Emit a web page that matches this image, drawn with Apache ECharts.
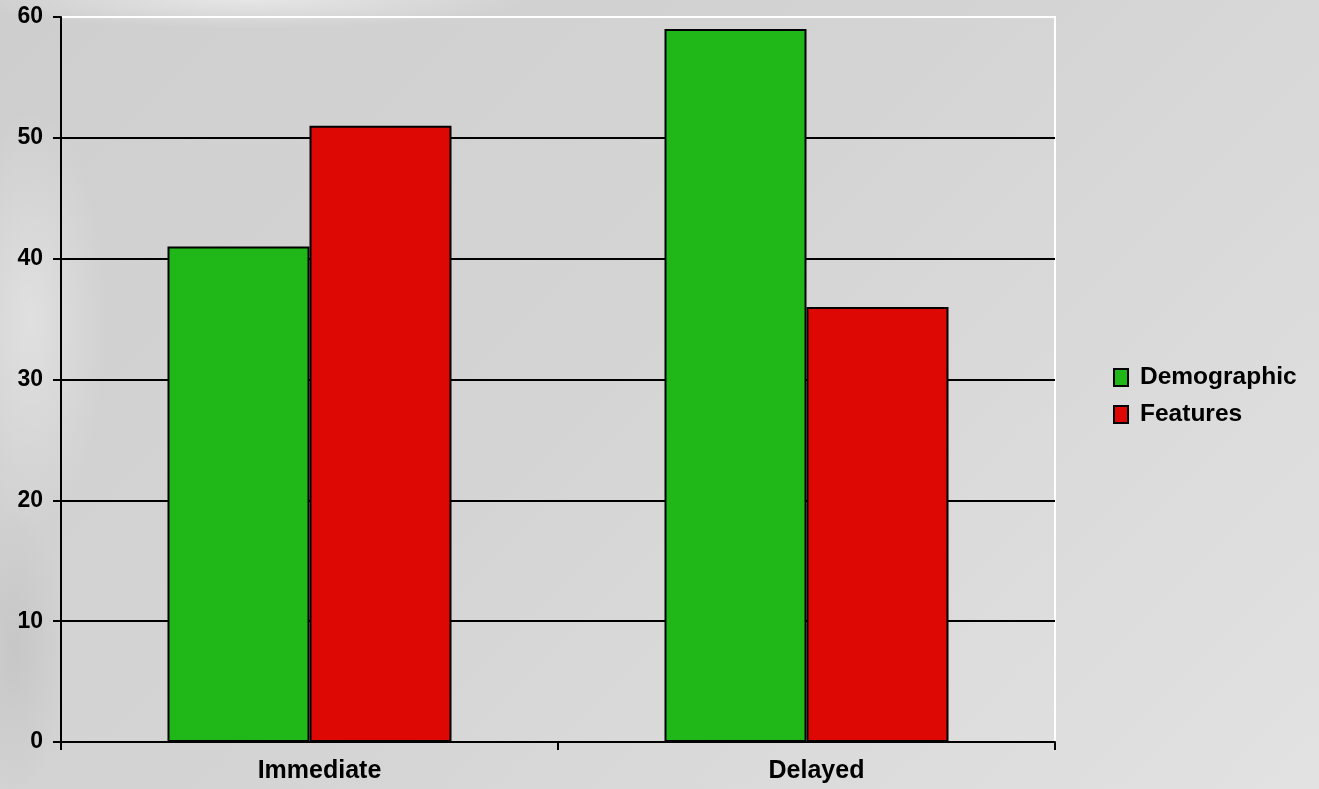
<!DOCTYPE html>
<html>
<head>
<meta charset="utf-8">
<script src="https://cdn.jsdelivr.net/npm/echarts@6/dist/echarts.min.js"></script>
<style>
html,body{margin:0;padding:0;width:1319px;height:789px;overflow:hidden;}
body{
  background:
    radial-gradient(ellipse 400px 40px at 250px 0px, rgba(245,245,245,0.6), rgba(245,245,245,0) 70%),
    radial-gradient(ellipse 110px 300px at 30px 320px, rgba(240,240,240,0.5), rgba(240,240,240,0) 70%),
    radial-gradient(ellipse 70px 200px at 15px 650px, rgba(185,185,185,0.45), rgba(185,185,185,0) 70%),
    linear-gradient(135deg, #cecece 0%, #d3d3d3 45%, #dbdbdb 75%, #e2e2e2 100%);
}
#chart{width:1319px;height:789px;}
</style>
</head>
<body>
<div id="chart"></div>
<script>
const categories = ['Immediate', 'Delayed'];
const seriesNames = ['Demographics', 'Features'];
const demographicValues = [41, 59];
const featuresValues = [51, 36];
const yTicks = [0, 10, 20, 30, 40, 50, 60];

const chart = echarts.init(document.getElementById('chart'));
const font = 'Liberation Sans, Arial, sans-serif';
chart.setOption({
  backgroundColor: 'transparent',
  animation: false,
  grid: {
    left: 61, right: 264, top: 17, bottom: 47,
    show: true, borderColor: '#ffffff', borderWidth: 2, backgroundColor: 'rgba(255,255,255,0.03)'
  },
  legend: {
    orient: 'vertical',
    left: 1113, top: 365,
    padding: 0,
    itemWidth: 14, itemHeight: 17, itemGap: 12,
    icon: 'rect',
    data: seriesNames,
    itemStyle: { borderColor: '#000', borderWidth: 2 },
    textStyle: {
      fontFamily: font, fontWeight: 'bold', fontSize: 24.5, color: '#000',
      padding: [0, 0, 0, 7],
      width: 165, overflow: 'truncate', ellipsis: ''
    }
  },
  xAxis: {
    type: 'category',
    data: categories,
    axisLine: { show: true, lineStyle: { color: '#000', width: 2 } },
    axisTick: { show: true, length: 8, lineStyle: { color: '#000', width: 2 } },
    axisLabel: { fontFamily: font, fontWeight: 'bold', fontSize: 25, color: '#000', margin: 17, padding: [0, 0, 0, 20] },
    splitLine: { show: false }
  },
  yAxis: {
    type: 'value',
    min: yTicks[0], max: yTicks[yTicks.length - 1], interval: 10,
    axisLine: { show: true, lineStyle: { color: '#000', width: 2 } },
    axisTick: { show: true, length: 8, lineStyle: { color: '#000', width: 2 } },
    axisLabel: { fontFamily: font, fontWeight: 'bold', fontSize: 23, color: '#000', margin: 18 },
    splitLine: { show: true, lineStyle: { color: ['#000', '#000', '#000', '#000', '#000', '#000', '#fff'], width: 2 } }
  },
  series: [
    {
      name: seriesNames[0], type: 'bar', data: demographicValues,
      barWidth: 142, barGap: '0%',
      itemStyle: { color: '#20b818', borderColor: '#000', borderWidth: 2 }
    },
    {
      name: seriesNames[1], type: 'bar', data: featuresValues,
      barWidth: 142, barGap: '0%',
      itemStyle: { color: '#dd0804', borderColor: '#000', borderWidth: 2 }
    }
  ]
});
</script>
</body>
</html>
